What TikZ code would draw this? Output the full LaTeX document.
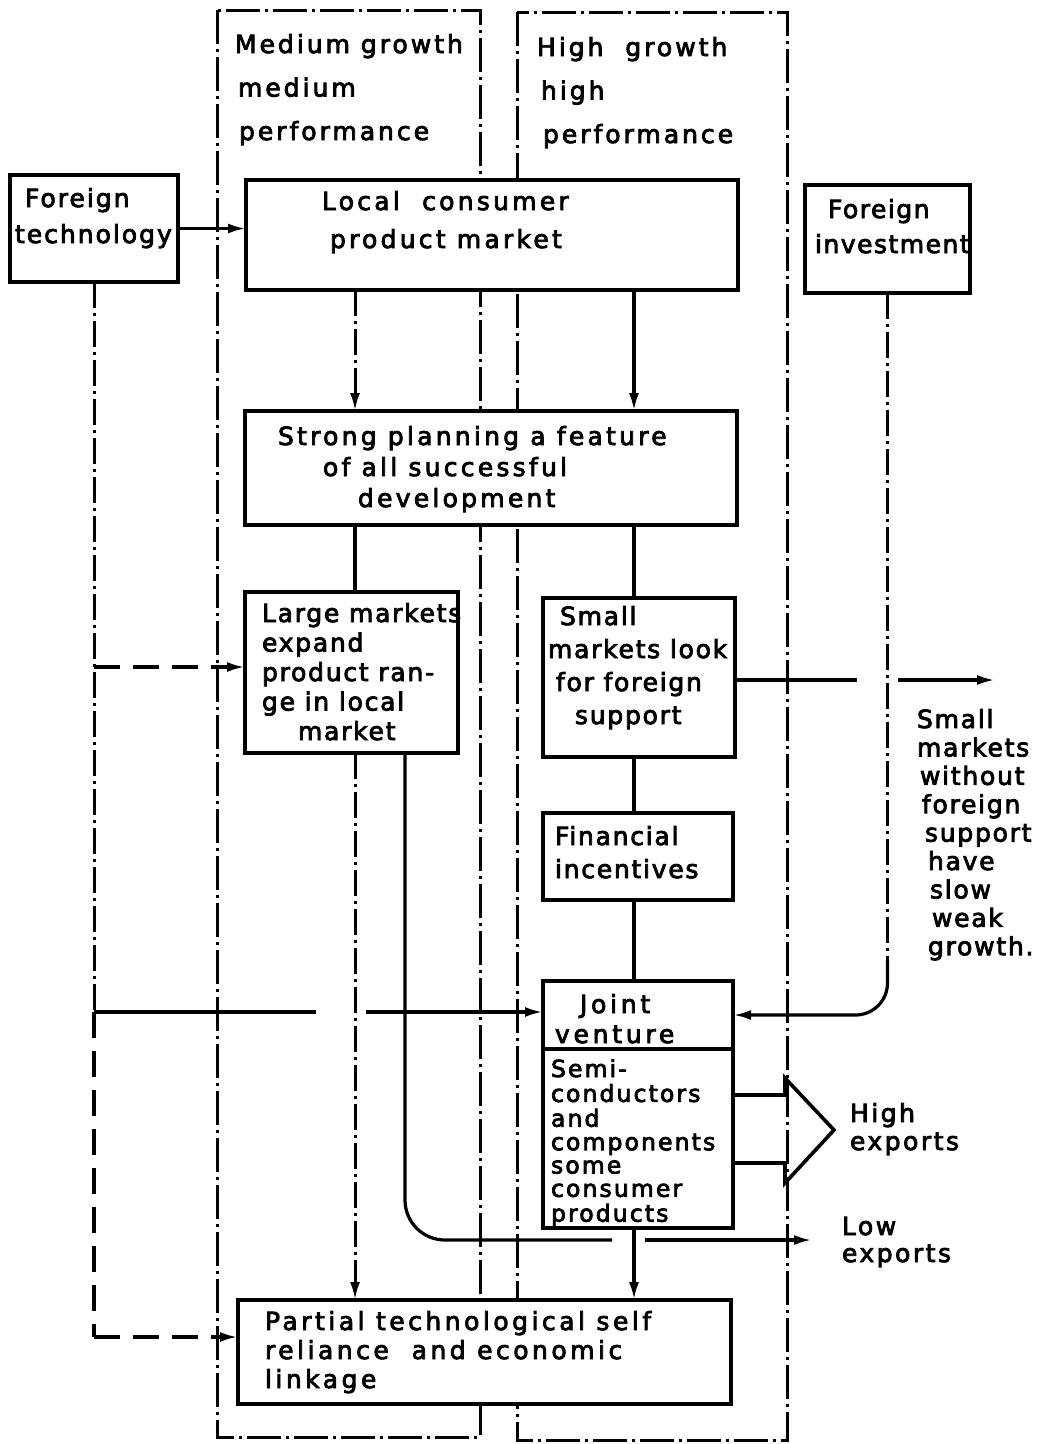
\documentclass[tikz,border=0pt]{standalone}
\usepackage{fontspec}
\setmainfont{DejaVu Sans}
\usetikzlibrary{arrows.meta}
% text block: size, line skip, letter spacing, lines
\newcommand\blk[4]{{\fontsize{#1}{#2}\selectfont\addfontfeature{FakeBold=3.2,LetterSpace=#3}\begin{tabular}[t]{@{}l@{}}#4\end{tabular}}}

\begin{document}
\begin{tikzpicture}[x=1pt,y=-1pt,
  bx/.style={draw, line width=3.8pt, fill=white, inner sep=0pt, outer sep=0pt},
  txt/.style={anchor=base west, inner sep=0pt, outer sep=0pt},
  conn/.style={line width=3.2pt},
  arr/.style={-{Latex[length=18pt,width=10pt]}},
  ddline/.style={line width=3pt, dash pattern=on 26pt off 5pt on 3pt off 5pt},
  colline/.style={line width=3pt, dash pattern=on 34pt off 5pt on 3pt off 5pt},
  longdash/.style={line width=3.2pt, dash pattern=on 26pt off 13pt},
]
\useasboundingbox (0,0) rectangle (1043,1444);

% the two performance columns
\draw[colline] (217,10) rectangle (480,1437);
\draw[colline] (517,12) rectangle (787,1440);

% boxes
\node[bx, minimum width=168pt, minimum height=107pt] (ft) at (94,228.5) {};
\node[bx, minimum width=492pt, minimum height=110pt] (local) at (492,235) {};
\node[bx, minimum width=165pt, minimum height=108pt] (fi) at (887.5,239) {};
\node[bx, minimum width=492pt, minimum height=114pt] (strong) at (491,468) {};
\node[bx, minimum width=213pt, minimum height=161pt] (large) at (351.5,672.5) {};
\node[bx, minimum width=192pt, minimum height=159pt] (small) at (639,677.5) {};
\node[bx, minimum width=190pt, minimum height=87pt] (fin) at (638,856.5) {};
\node[bx, minimum width=190pt, minimum height=68pt] (joint) at (638,1015) {};
\node[bx, minimum width=190pt, minimum height=179pt] (semi) at (638,1138.5) {};
\node[bx, minimum width=493pt, minimum height=104pt] (partial) at (484.5,1352) {};

% reference positions
\coordinate (xa) at (355,0);
\coordinate (xb) at (634,0);
\coordinate (xc) at (405,0);
\coordinate (ftA) at (94,667);
\coordinate (ftB) at (94,1012);
\coordinate (ftC) at (94,1337);
\coordinate (jA) at (316,1012);
\coordinate (jB) at (366,1012);
\coordinate (lA) at (612,1240);
\coordinate (lB) at (645,1240);
\coordinate (lC) at (812,1240);
\coordinate (sA) at (857,680);
\coordinate (sB) at (898,680);
\coordinate (sC) at (995,680);
\coordinate (fA) at (887.5,960);
\coordinate (hA) at (0,1095);
\coordinate (hB) at (0,1163);

% foreign technology links
\draw[conn, arr] (ft.east) -- (ft.east -| local.west);
\draw[ddline] (ft.south) -- (ftB);
\draw[longdash] (ftB) -- (ftC);
\draw[longdash, arr] (ftC) -- (partial.west |- ftC);
\draw[longdash, arr] (ftA) -- (large.west |- ftA);
\draw[conn] (ftB) -- (jA);
\draw[conn, arr] (jB) -- (joint.west |- jB);

% main flow
\draw[ddline, arr] (xa |- local.south) -- (xa |- strong.north);
\draw[conn, arr] (xb |- local.south) -- (xb |- strong.north);
\draw[conn] (xa |- strong.south) -- (xa |- large.north);
\draw[conn] (xb |- strong.south) -- (xb |- small.north);
\draw[ddline, arr] (xa |- large.south) -- (xa |- partial.north);
\draw[conn] (xb |- small.south) -- (xb |- fin.north);
\draw[conn] (xb |- fin.south) -- (xb |- joint.north);
\draw[conn, arr] (xb |- semi.south) -- (xb |- partial.north);

% low exports
\draw[conn, rounded corners=40pt] (xc |- large.south) -- (xc |- lA) -- (lA);
\draw[conn, arr] (lB) -- (lC);

% small markets without support
\draw[conn] (small.east |- sA) -- (sA);
\draw[conn, arr] (sB) -- (sC);

% foreign investment into the joint venture
\draw[ddline] (fi.south) -- (fA);
\draw[conn, arr, rounded corners=32pt] (fA) -- (fA |- joint.east) -- (joint.east);

% high exports block arrow
\draw[conn, line width=3.6pt, line join=miter] (semi.east |- hA) -- (785,1095) -- (785,1078) -- (834,1130) -- (785,1183) -- (785,1163) -- (semi.east |- hB);

% texts
\node[txt] (tmed) at (235,53) {\blk{25}{43.5}{12}{Medium growth\\\hspace*{3pt}medium\\\hspace*{4pt}performance}};
\node[txt] (thigh) at (537,56) {\blk{25}{43.5}{12}{High\ \ growth\\\hspace*{4pt}high\\\hspace*{6pt}performance}};
\node[txt] (tft) at (15,207) {\blk{25}{36}{8}{\hspace*{10pt}Foreign\\technology}};
\node[txt] (tlocal) at (322,210) {\blk{25}{38}{13}{Local\ \ consumer\\\hspace*{8pt}product market}};
\node[txt] (tfi) at (815,218) {\blk{25}{35}{6}{\hspace*{13pt}Foreign\\investment}};
\node[txt] (tstrong) at (278,445) {\blk{25}{31}{13}{Strong planning a feature\\\hspace*{45pt}of all successful\\\hspace*{80pt}development}};
\node[txt] (tlarge) at (262,622) {\blk{25}{29.5}{7}{Large markets\\expand\\product ran-\\ge in local\\\hspace*{36pt}market}};
\node[txt] (tsmall) at (548,625) {\blk{25}{33}{7}{\hspace*{12pt}Small\\markets look\\\hspace*{8pt}for foreign\\\hspace*{27pt}support}};
\node[txt] (tfin) at (555,845) {\blk{25}{33}{7}{Financial\\incentives}};
\node[txt] (tjoint) at (555,1013) {\blk{25}{30}{15}{\hspace*{25pt}Joint\\venture}};
\node[txt] (tsemi) at (551,1077) {\blk{23.5}{23.3}{9}{Semi-\\conductors\\and\\components\\some\\consumer\\products}};
\node[txt] (tpart) at (265,1330) {\blk{25}{29}{14}{Partial technological self\\reliance\ \ and economic\\linkage}};
\node[txt] (tright) at (917,728) {\blk{25}{28.4}{7}{Small\\markets\\\hspace*{3pt}without\\\hspace*{5pt}foreign\\\hspace*{8pt}support\\\hspace*{11pt}have\\\hspace*{13pt}slow\\\hspace*{15pt}weak\\\hspace*{11pt}growth.}};
\node[txt] (thx) at (850,1122) {\blk{25}{28}{10}{High\\exports}};
\node[txt] (tlx) at (842,1235) {\blk{25}{27}{10}{Low\\exports}};
\end{tikzpicture}
\end{document}
